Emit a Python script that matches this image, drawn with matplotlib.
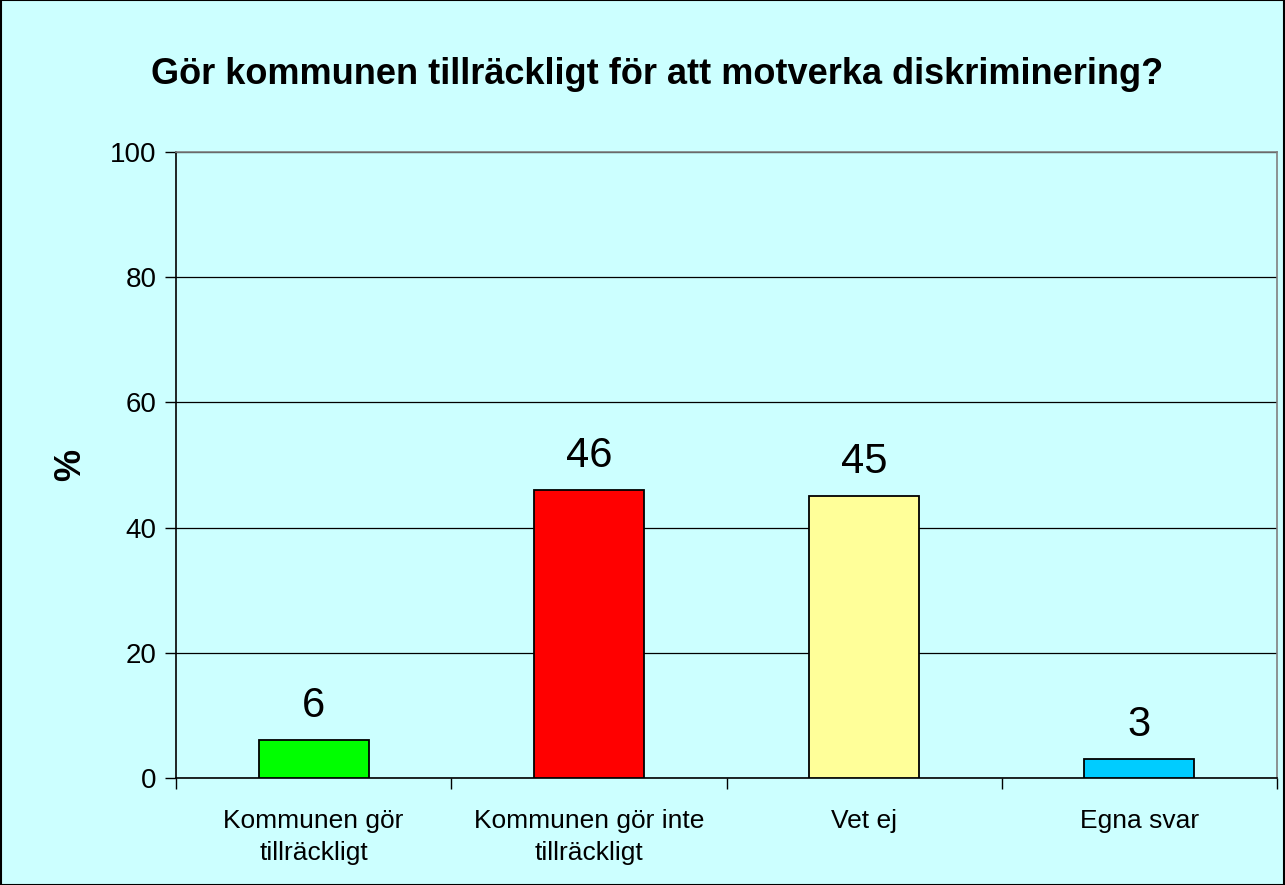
import matplotlib
matplotlib.use("Agg")
import matplotlib.pyplot as plt
from matplotlib.patches import Rectangle

plt.rcParams['font.family'] = ['Liberation Sans', 'DejaVu Sans']

categories = ['Kommunen gör\ntillräckligt', 'Kommunen gör inte\ntillräckligt', 'Vet ej', 'Egna svar']
values = [6, 46, 45, 3]
colors = ['#00FF00', '#FF0000', '#FFFF99', '#00CCFF']
bg = '#CCFFFF'

fig = plt.figure(figsize=(12.85, 8.85), dpi=100, facecolor=bg)
fig.patches.append(Rectangle((0.0005, 0.0005), 0.999, 0.999, transform=fig.transFigure,
                             fill=False, edgecolor='black', linewidth=1.5))
ax = fig.add_axes([0.137, 0.1209, 0.8568, 0.7073])
ax.set_facecolor(bg)

x = range(len(categories))
ax.bar(x, values, width=0.4, color=colors, edgecolor='black', linewidth=1.3, zorder=3)
for xi, v in zip(x, values):
    ax.text(xi, v + 2.3, str(v), ha='center', va='bottom', fontsize=30)

ax.set_xlim(-0.5, len(categories) - 0.5)
ax.set_ylim(0, 100)
ax.set_yticks([0, 20, 40, 60, 80, 100])
ax.yaxis.grid(True, color='black', linewidth=0.9, zorder=0)
# category boundaries get the tick marks, labels sit between them
ax.set_xticks([i - 0.5 for i in range(len(categories) + 1)], minor=False)
ax.set_xticklabels([])
ax.set_xticks(list(x), minor=True)
ax.set_xticklabels(categories, minor=True, fontsize=19, linespacing=1.45)
ax.tick_params(axis='x', which='major', direction='out', length=8, width=1, color='black')
ax.tick_params(axis='x', which='minor', length=0, pad=22)
ax.tick_params(axis='y', direction='out', length=8, width=1, labelsize=20, pad=6)

ax.spines['left'].set_color('black')
ax.spines['bottom'].set_color('black')
ax.spines['top'].set_color('#808080')
ax.spines['right'].set_color('#808080')
for s in ax.spines.values():
    s.set_linewidth(1.2)

ax.set_ylabel('%', fontsize=26, fontweight='bold', labelpad=16)
fig.text(0.511, 0.916, 'Gör kommunen tillräckligt för att motverka diskriminering?',
         ha='center', va='center', fontsize=26, fontweight='bold')

fig.savefig('out.png', dpi=100, facecolor=bg)
